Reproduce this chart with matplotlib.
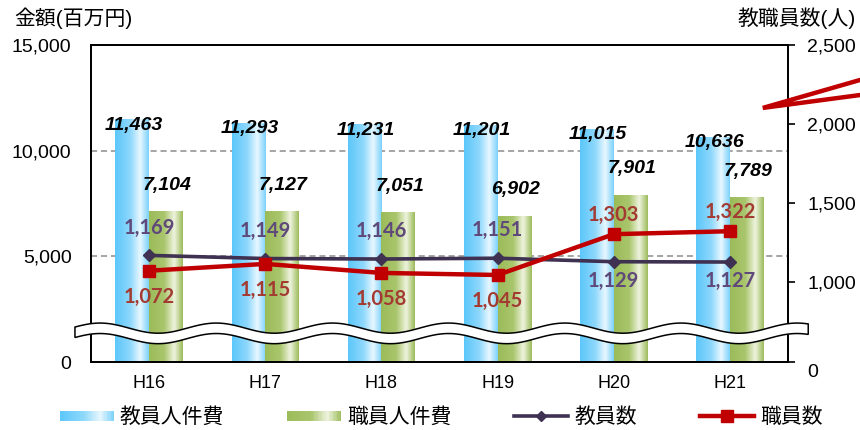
import numpy as np
import matplotlib
matplotlib.use("Agg")
import matplotlib.pyplot as plt
from matplotlib.colors import LinearSegmentedColormap
from matplotlib.patches import Rectangle, Polygon
from matplotlib.lines import Line2D
from matplotlib.legend_handler import HandlerBase
from matplotlib.transforms import ScaledTranslation

plt.rcParams["font.family"] = ["Liberation Sans", "Noto Sans CJK JP"]

years = ["H16", "H17", "H18", "H19", "H20", "H21"]
teacher_cost = [11463, 11293, 11231, 11201, 11015, 10636]   # 教員人件費
staff_cost = [7104, 7127, 7051, 6902, 7901, 7789]           # 職員人件費
teachers = [1169, 1149, 1146, 1151, 1129, 1127]             # 教員数
staff = [1072, 1115, 1058, 1045, 1303, 1322]                # 職員数

blue_map = LinearSegmentedColormap.from_list(
    "b", [(0, "#5cc7fa"), (0.45, "#8ed8fc"), (0.75, "#e8f7ff"), (1, "#7ed2fb")])
green_map = LinearSegmentedColormap.from_list(
    "g", [(0, "#9bbb59"), (0.45, "#aac66e"), (0.75, "#eef3de"), (1, "#9ebd5d")])
grad = np.linspace(0, 1, 64).reshape(1, -1)

fig = plt.figure(figsize=(8.6, 4.3), dpi=100)
ax = fig.add_axes([0.1058, 0.158, 0.8105, 0.7373])
ax2 = ax.twinx()

x = np.arange(len(years))
w = 0.29
b1 = ax.bar(x - w / 2, teacher_cost, w, color="none", zorder=2)
b2 = ax.bar(x + w / 2, staff_cost, w, color="none", zorder=2)
for bars, cm in [(b1, blue_map), (b2, green_map)]:
    for r in bars:
        ax.imshow(grad, cmap=cm, aspect="auto", zorder=2,
                  extent=[r.get_x(), r.get_x() + r.get_width(), 0, r.get_height()])

ax.set_xlim(-0.5, len(years) - 0.5)
ax.set_ylim(0, 15000)
ax.set_yticks([0, 5000, 10000, 15000])
ax.set_yticklabels([f"{v:,}" for v in [0, 5000, 10000, 15000]])
ax.set_xticks(x)
ax.set_xticklabels(years)
ax.tick_params(axis="y", length=0, pad=14, labelsize=14)
ax.tick_params(axis="x", length=0, pad=9, labelsize=13)
for v in [5000, 10000]:
    ax.axhline(v, color="#8c8c8c", lw=1.1, ls=(0, (4, 2.5)), zorder=1)

for r, v in zip(b1, teacher_cost):
    ax.annotate(f"{v:,}", (r.get_x() + r.get_width() / 2, v), xytext=(1, -4),
                textcoords="offset points", ha="center", va="center",
                fontsize=14, fontweight="bold", style="italic", zorder=6)
for r, v in zip(b2, staff_cost):
    ax.annotate(f"{v:,}", (r.get_x() + r.get_width() / 2, v), xytext=(1, 19),
                textcoords="offset points", ha="center", va="center",
                fontsize=14, fontweight="bold", style="italic", zorder=6)

# right axis (people)
ax2.plot(x, teachers, color="#3f3151", lw=2.6, marker="D", ms=6, zorder=4)
ax2.plot(x, staff, color="#c00000", lw=3.2, marker="s", ms=9, zorder=4)
ax2.set_ylim(494, 2500)
ax2.set_yticks([494, 1000, 1500, 2000, 2500])
ax2.set_yticklabels(["0", "1,000", "1,500", "2,000", "2,500"])
ax2.tick_params(axis="y", length=5, width=1.2, pad=9, labelsize=14)
zero = ax2.get_yticklabels()[0]
zero.set_transform(zero.get_transform() + ScaledTranslation(0, -6 / 72, fig.dpi_scale_trans))

for i in range(len(years)):
    up = teachers[i] > staff[i]
    ax2.annotate(f"{teachers[i]:,}", (x[i], teachers[i]),
                 xytext=(0, 20 if up else -14), textcoords="offset points",
                 ha="center", va="center", color="#5f497a", fontsize=14.5,
                 fontweight="bold", family="Lato", zorder=6)
    ax2.annotate(f"{staff[i]:,}", (x[i], staff[i]),
                 xytext=(0, -19 if up else 14), textcoords="offset points",
                 ha="center", va="center", color="#a33b32", fontsize=14.5,
                 fontweight="bold", family="Lato", zorder=6)

for a in (ax, ax2):
    for s in a.spines.values():
        s.set_color("black")
        s.set_linewidth(1.3)

# wavy axis break
xs = np.linspace(-0.023, 1.029, 500)
wave = 0.016 * np.cos(2 * np.pi * (xs - 0.013) * 6)
upper = 0.107 + wave
lower = 0.074 + wave
pts = np.column_stack([np.r_[xs, xs[::-1]], np.r_[upper, lower[::-1]]])
ax2.add_patch(Polygon(pts, closed=True, facecolor="white", edgecolor="black",
                      lw=1.1, transform=ax2.transAxes, clip_on=False, zorder=5))

# stray red line at top right
fig.add_artist(Line2D([1.0, 0.887, 1.0], [0.814, 0.749, 0.779], color="#c00000",
                      lw=3.2, solid_capstyle="round", solid_joinstyle="miter"))

fig.text(0.017, 0.958, "金額(百万円)", fontsize=15, ha="left", va="center")
fig.text(0.995, 0.958, "教職員数(人)", fontsize=15, ha="right", va="center")


class GradHandler(HandlerBase):
    def __init__(self, cmap):
        super().__init__()
        self.cmap = cmap

    def create_artists(self, legend, orig_handle, xdescent, ydescent,
                       width, height, fontsize, trans):
        n = 40
        h = height * 0.7
        y0 = -ydescent + (height - h) / 2
        arts = []
        for i in range(n):
            c = self.cmap((i + 0.5) / n)
            arts.append(Rectangle((-xdescent + i * width / n, y0), width / n + 0.3, h,
                                  facecolor=c, edgecolor="none", transform=trans))
        return arts


hb = Rectangle((0, 0), 1, 1)
hg = Rectangle((0, 0), 1, 1)
hl1 = Line2D([], [], color="#3f3151", lw=2.6, marker="D", ms=5)
hl2 = Line2D([], [], color="#c00000", lw=3.2, marker="s", ms=8)
fig.legend([hb, hg, hl1, hl2], ["教員人件費", "職員人件費", "教員数", "職員数"],
           handler_map={hb: GradHandler(blue_map), hg: GradHandler(green_map)},
           loc="center", bbox_to_anchor=(0.513, 0.03), ncol=4, frameon=False,
           fontsize=15, handlelength=2.6, handletextpad=0.3, columnspacing=3.0)

fig.savefig("out.png", dpi=100)
